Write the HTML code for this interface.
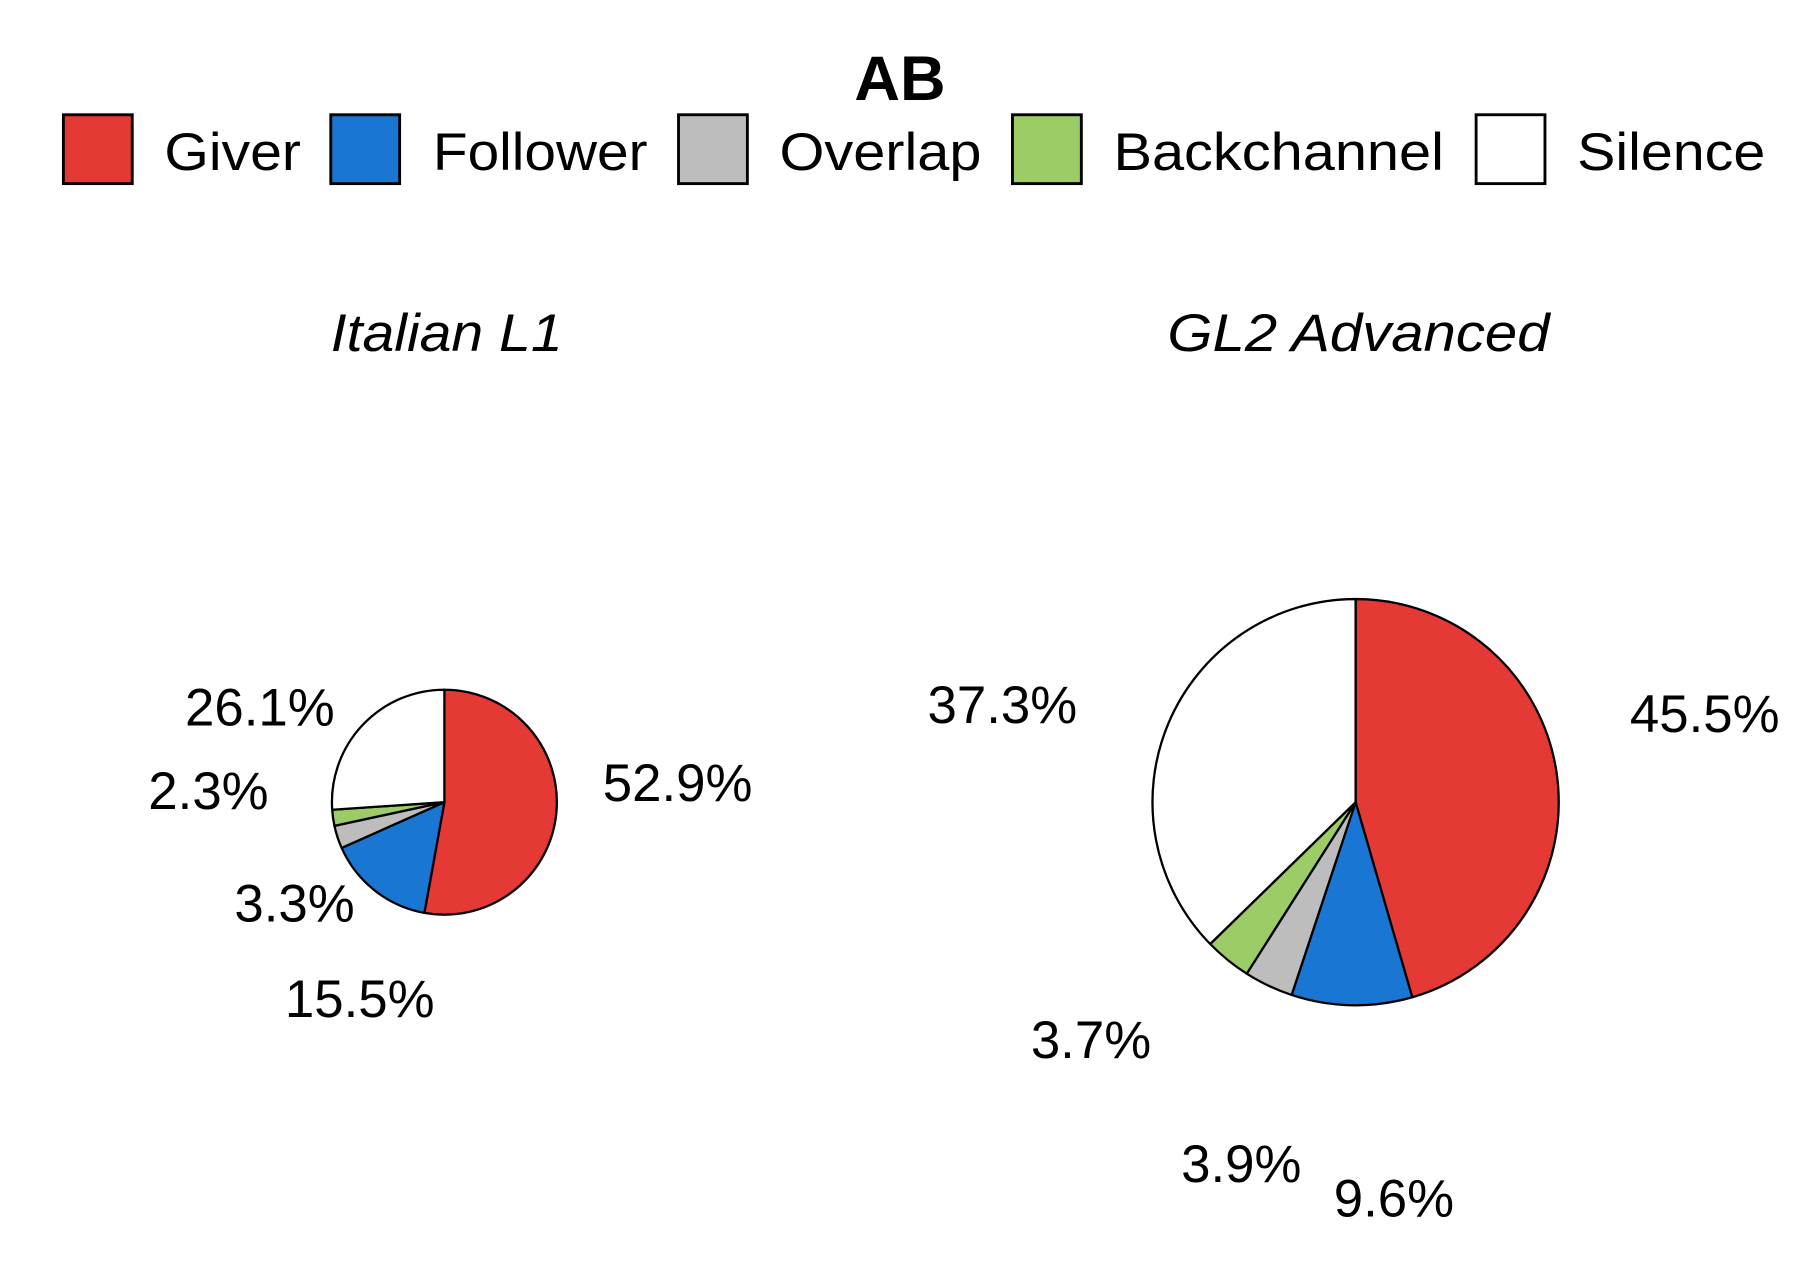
<!DOCTYPE html>
<html><head><meta charset="utf-8">
<style>
html,body{margin:0;padding:0;background:#fff;}
svg{display:block;}
text{font-family:"Liberation Sans",Arial,sans-serif;fill:#000;}
</style></head>
<body>
<svg id="chart" width="1800" height="1275" viewBox="0 0 1568 1111" xmlns="http://www.w3.org/2000/svg">
<text x="784" y="87" font-size="55" font-weight="bold" text-anchor="middle">AB</text>
<g>
<rect x="55" y="100" width="60" height="60" fill="#E53935" stroke="#000" stroke-width="2.5"/>
<text x="143" y="148" font-size="46" textLength="119" lengthAdjust="spacingAndGlyphs">Giver</text>
<rect x="288" y="100" width="60" height="60" fill="#1976D2" stroke="#000" stroke-width="2.5"/>
<text x="377" y="148" font-size="46" textLength="187" lengthAdjust="spacingAndGlyphs">Follower</text>
<rect x="591" y="100" width="60" height="60" fill="#BDBDBD" stroke="#000" stroke-width="2.5"/>
<text x="679" y="148" font-size="46" textLength="176" lengthAdjust="spacingAndGlyphs">Overlap</text>
<rect x="882" y="100" width="60" height="60" fill="#9CCC65" stroke="#000" stroke-width="2.5"/>
<text x="970" y="148" font-size="46" textLength="288" lengthAdjust="spacingAndGlyphs">Backchannel</text>
<rect x="1286" y="100" width="60" height="60" fill="#FFFFFF" stroke="#000" stroke-width="2.5"/>
<text x="1374" y="148" font-size="46" textLength="164" lengthAdjust="spacingAndGlyphs">Silence</text>
</g>
<text x="288" y="306" font-size="46" font-style="italic" textLength="202" lengthAdjust="spacingAndGlyphs">Italian L1</text>
<text x="1017" y="306" font-size="46" font-style="italic" textLength="333" lengthAdjust="spacingAndGlyphs">GL2 Advanced</text>
</svg>
<script>
const categories = ["Giver","Follower","Overlap","Backchannel","Silence"];
const colors = ["#E53935","#1976D2","#BDBDBD","#9CCC65","#FFFFFF"];
const italianValues = [52.9,15.5,3.3,2.3,26.1];
const gl2Values = [45.5,9.6,3.9,3.7,37.3];
const italianLabels = ["52.9%","15.5%","3.3%","2.3%","26.1%"];
const gl2Labels = ["45.5%","9.6%","3.9%","3.7%","37.3%"];
const italianLabelPos = [[525,698],[248,886],[204,803],[129,705],[161,632]];
const gl2LabelPos = [[1420,638],[1162,1060],[1029,1030],[898,922],[808,630]];

const NS = "http://www.w3.org/2000/svg";
const svg = document.getElementById("chart");
function drawPie(name, values, labels, lpos, cx, cy, r){
  const total = values.reduce((a,b)=>a+b,0);
  const g = document.createElementNS(NS,"g");
  
  
  svg.appendChild(g);
  let acc = 0;
  values.forEach((v,i)=>{
    const a0 = acc/total*2*Math.PI; acc += v;
    const a1 = acc/total*2*Math.PI;
    const x0 = cx + r*Math.sin(a0), y0 = cy - r*Math.cos(a0);
    const x1 = cx + r*Math.sin(a1), y1 = cy - r*Math.cos(a1);
    const large = (a1-a0) > Math.PI ? 1 : 0;
    const p = document.createElementNS(NS,"path");
    p.setAttribute("d",`M${cx},${cy} L${x0},${y0} A${r},${r} 0 ${large} 1 ${x1},${y1} Z`);
    p.setAttribute("fill",colors[i]);
    p.setAttribute("stroke","#000");
    p.setAttribute("stroke-width","2");
    p.setAttribute("stroke-linejoin","round");
    
    
    g.appendChild(p);
  });
  labels.forEach((t,i)=>{
    const tx = document.createElementNS(NS,"text");
    tx.setAttribute("x",lpos[i][0]);
    tx.setAttribute("y",lpos[i][1]);
    tx.setAttribute("font-size","46");
    tx.textContent = t;
    
    
    g.appendChild(tx);
  });
}
drawPie("pie-italian-l1", italianValues, italianLabels, italianLabelPos, 387, 699, 98);
drawPie("pie-gl2-advanced", gl2Values, gl2Labels, gl2LabelPos, 1181, 699, 177);
</script>
</body></html>
